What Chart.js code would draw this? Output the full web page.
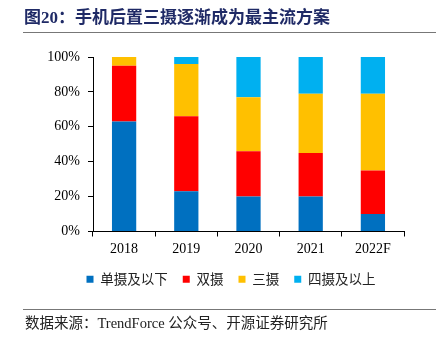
<!DOCTYPE html>
<html>
<head>
<meta charset="utf-8">
<script src="https://cdn.jsdelivr.net/npm/chart.js@4/dist/chart.umd.min.js"></script>
<style>
  html, body { margin: 0; padding: 0; background: #fff; }
  #wrap { position: relative; width: 436px; height: 341px; }
</style>
</head>
<body>
<div id="wrap"><canvas id="myChart" width="436" height="341"></canvas></div>
<script>
// data
var years = ['2018', '2019', '2020', '2021', '2022F'];
var single = [63, 23, 20, 20, 10];
var dual = [32, 43, 26, 25, 25];
var triple = [5, 30, 31, 34, 44];
var quadPlus = [0, 4, 23, 21, 21];
var yTicks = ['0%', '20%', '40%', '60%', '80%', '100%'];

var titleText = '图20：手机后置三摄逐渐成为最主流方案';
var sourceText = '数据来源：TrendForce 公众号、开源证券研究所';

var cjk = "'Liberation Serif', 'Noto Sans CJK SC', serif";

// title, rules and source note
var frame = {
  id: 'frame',
  afterLayout: function (chart) {
    // legend sits centred under the whole page, not the plot
    chart.legend.left += 29;
    chart.legend.right += 29;
  },
  afterDraw: function (chart) {
    var ctx = chart.ctx;
    ctx.save();
    ctx.fillStyle = '#1f2a66';
    ctx.font = 'bold 17px ' + cjk;
    ctx.textBaseline = 'middle';
    ctx.textAlign = 'left';
    ctx.fillText(titleText, 24, 19);

    ctx.strokeStyle = '#777';
    ctx.lineWidth = 1;
    ctx.beginPath();
    ctx.moveTo(23, 32.5); ctx.lineTo(436, 32.5);
    ctx.moveTo(23, 309.5); ctx.lineTo(436, 309.5);
    ctx.stroke();

    ctx.fillStyle = '#222';
    ctx.font = '14.5px ' + cjk;
    ctx.fillText(sourceText, 25, 324);
    ctx.restore();
  }
};

var ctx = document.getElementById('myChart').getContext('2d');
var myChart = new Chart(ctx, {
  type: 'bar',
  data: {
    labels: years,
    datasets: [
      { label: '单摄及以下', data: single, backgroundColor: '#0070C0' },
      { label: '双摄', data: dual, backgroundColor: '#FF0000' },
      { label: '三摄', data: triple, backgroundColor: '#FFC000' },
      { label: '四摄及以上', data: quadPlus, backgroundColor: '#00B0F0' }
    ]
  },
  options: {
    responsive: false,
    animation: false,
    layout: { padding: { left: 0, right: 32, top: 57, bottom: 45 } },
    datasets: { bar: { categoryPercentage: 1, barPercentage: 0.39, borderWidth: 0 } },
    plugins: {
      tooltip: { enabled: false },
      legend: {
        position: 'bottom',
        labels: {
          boxWidth: 7,
          boxHeight: 7,
          padding: 15,
          color: '#222',
          font: { family: "'Noto Sans CJK SC'", size: 13.5 }
        }
      }
    },
    scales: {
      x: {
        stacked: true,
        afterFit: function (s) { s.height = 26; },
        grid: { display: true, drawOnChartArea: false, offset: true, tickLength: 5, color: '#000' },
        border: { color: '#000', width: 1 },
        ticks: { color: '#000', padding: 4, font: { family: "'Liberation Serif'", size: 14 } }
      },
      y: {
        stacked: true,
        min: 0,
        max: 100,
        afterFit: function (s) { s.width = 93; },
        grid: { display: true, drawOnChartArea: false, tickLength: 5, color: '#000' },
        border: { color: '#000', width: 1 },
        ticks: {
          stepSize: 20,
          padding: 8,
          color: '#000',
          font: { family: "'Liberation Serif'", size: 14 },
          callback: function (v) { return yTicks[v / 20]; }
        }
      }
    }
  },
  plugins: [frame]
});
</script>
</body>
</html>
